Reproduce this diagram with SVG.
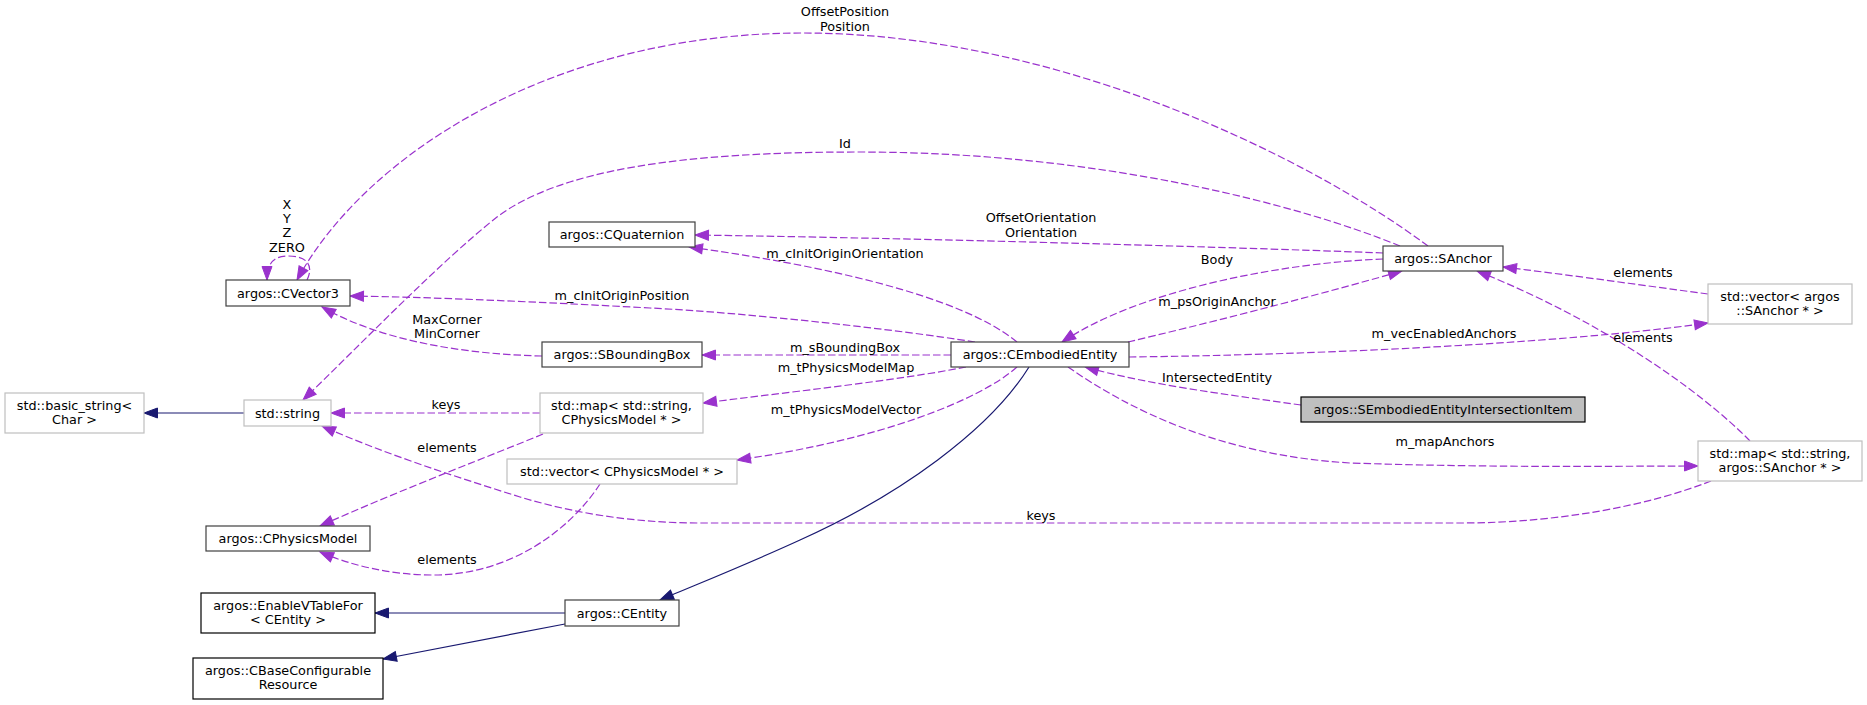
<svg xmlns="http://www.w3.org/2000/svg" width="1867" height="705" viewBox="0 0 1867 705">
<style>
text{font-family:"DejaVu Sans","Liberation Sans",sans-serif;font-size:12.8px;fill:#000;text-anchor:middle}
.n{fill:#fff;stroke:#404040;stroke-width:1.2}
.nb{fill:#fff;stroke:#000;stroke-width:1.2}
.ng{fill:#fff;stroke:#bfbfbf;stroke-width:1.2}
.nm{fill:#bfbfbf;stroke:#000;stroke-width:1.2}
.d{fill:none;stroke:#9a32cd;stroke-width:1.2;stroke-dasharray:7.5,3;marker-end:url(#ap)}
.s{fill:none;stroke:#191970;stroke-width:1.2;marker-end:url(#ab)}
</style>
<defs>
<marker id="ap" markerUnits="userSpaceOnUse" orient="auto" refX="0" refY="0" markerWidth="16" markerHeight="12" overflow="visible">
<path d="M-13.5,-5 L0,0 L-13.5,5 z" fill="#9a32cd" stroke="#9a32cd" stroke-width="1" stroke-dasharray="none"/>
</marker>
<marker id="ab" markerUnits="userSpaceOnUse" orient="auto" refX="0" refY="0" markerWidth="16" markerHeight="12" overflow="visible">
<path d="M-13.5,-5 L0,0 L-13.5,5 z" fill="#191970" stroke="#191970" stroke-width="1" stroke-dasharray="none"/>
</marker>
</defs>
<rect width="1867" height="705" fill="#fff"/>
<g id="edges">
<path class="d" d="M1428,246 C1304,154 1053,33 803,33 C553,33 365,155 297,280"/>
<text x="845" y="16">OffsetPosition</text><text x="845" y="31">Position</text>
<path class="d" d="M307,280 C313,268 310,256 288,256 C273,256 267,264 267,280"/>
<text x="287" y="208.5">X</text><text x="287" y="222.5">Y</text><text x="287" y="236.5">Z</text><text x="287" y="252">ZERO</text>
<path class="d" d="M1400,246 C1300,205 1100,152 859,152 C680,152 560,170 497,217 C440,262 360,345 303,400"/>
<text x="845" y="147.5">Id</text>
<path class="d" d="M1383,253 C1200,246 900,238 695,235"/>
<text x="1041" y="221.5">OffsetOrientation</text><text x="1041" y="236.5">Orientation</text>
<path class="d" d="M1017,342 C960,295 820,265 689,247"/>
<text x="845" y="257.5">m_cInitOriginOrientation</text>
<path class="d" d="M975,342 C900,330 750,313 650,308 C540,302 430,297 350,296"/>
<text x="622" y="299.5">m_cInitOriginPosition</text>
<path class="d" d="M951,355 L702,355"/>
<text x="845" y="351.5">m_sBoundingBox</text>
<path class="d" d="M542,356 C460,354 380,340 322,307"/>
<text x="447" y="323.5">MaxCorner</text><text x="447" y="337.5">MinCorner</text>
<path class="d" d="M540,413 L331,413"/>
<text x="446" y="408.5">keys</text>
<path class="d" d="M543,434 C500,452 400,490 320,526"/>
<text x="447" y="451.5">elements</text>
<path class="d" d="M600,484 C570,530 510,575 433,575 C390,575 350,565 320,552"/>
<text x="447" y="563.5">elements</text>
<path class="d" d="M1711,481 C1650,505 1560,523 1460,523 L700,523 C640,523 580,515 520,497 C450,475 380,452 322,426"/>
<text x="1041" y="519.5">keys</text>
<path class="d" d="M966,367 C900,380 790,392 703,403"/>
<text x="846" y="371.5">m_tPhysicsModelMap</text>
<path class="d" d="M1017,367 C980,400 880,440 737,460"/>
<text x="846" y="413.5">m_tPhysicsModelVector</text>
<path class="s" d="M1029,367 C990,430 900,495 800,540 C750,563 700,583 660,600"/>
<path class="s" d="M565,613 L375,613"/>
<path class="s" d="M565,624 L383,659"/>
<path class="s" d="M244,413 L144,413"/>
<path class="d" d="M1128,342 C1200,325 1300,300 1402,271"/>
<text x="1217" y="305.5">m_psOriginAnchor</text>
<path class="d" d="M1383,259 C1280,263 1140,290 1062,342"/>
<text x="1217" y="263.5">Body</text>
<path class="d" d="M1129,357 C1300,355 1550,345 1708,323"/>
<text x="1444" y="337.5">m_vecEnabledAnchors</text>
<path class="d" d="M1708,294 C1640,285 1570,275 1503,267"/>
<text x="1643" y="276.5">elements</text>
<path class="d" d="M1750,441 C1700,390 1600,320 1477,271"/>
<text x="1643" y="341.5">elements</text>
<path class="d" d="M1301,405 C1230,395 1150,385 1085,367"/>
<text x="1217" y="381.5">IntersectedEntity</text>
<path class="d" d="M1068,367 C1130,410 1220,455 1350,463 C1500,468 1620,466 1698,466"/>
<text x="1445" y="445.5">m_mapAnchors</text>
</g>
<g id="n_cvector3"><rect class="n" x="226" y="280" width="124" height="26"/><text x="288" y="297.5">argos::CVector3</text></g>
<g id="n_cquaternion"><rect class="n" x="549" y="222" width="146" height="25"/><text x="622" y="239">argos::CQuaternion</text></g>
<g id="n_sboundingbox"><rect class="n" x="542" y="342" width="160" height="25"/><text x="622" y="359">argos::SBoundingBox</text></g>
<g id="n_string"><rect class="ng" x="244" y="400" width="87" height="26"/><text x="287.5" y="417.5">std::string</text></g>
<g id="n_basic_string"><rect class="ng" x="5" y="393" width="139" height="40"/><text x="74.5" y="409.5">std::basic_string&lt;</text><text x="74.5" y="423.5">Char &gt;</text></g>
<g id="n_map_cpm"><rect class="ng" x="540" y="393" width="163" height="40"/><text x="621.5" y="409.5">std::map&lt; std::string,</text><text x="621.5" y="423.5">CPhysicsModel * &gt;</text></g>
<g id="n_vector_cpm"><rect class="ng" x="507" y="459" width="230" height="25"/><text x="622" y="476">std::vector&lt; CPhysicsModel * &gt;</text></g>
<g id="n_cphysicsmodel"><rect class="n" x="206" y="526" width="164" height="25"/><text x="288" y="543">argos::CPhysicsModel</text></g>
<g id="n_enablevtable"><rect class="nb" x="201" y="593" width="174" height="40"/><text x="288" y="609.5">argos::EnableVTableFor</text><text x="288" y="623.5">&lt; CEntity &gt;</text></g>
<g id="n_cbaseconfigurable"><rect class="nb" x="193" y="658" width="190" height="41"/><text x="288" y="674.5">argos::CBaseConfigurable</text><text x="288" y="688.5">Resource</text></g>
<g id="n_centity"><rect class="n" x="565" y="600" width="114" height="26"/><text x="622" y="617.5">argos::CEntity</text></g>
<g id="n_cembodiedentity"><rect class="n" x="951" y="342" width="178" height="25"/><text x="1040" y="359">argos::CEmbodiedEntity</text></g>
<g id="n_sanchor"><rect class="n" x="1383" y="246" width="120" height="25"/><text x="1443" y="263">argos::SAnchor</text></g>
<g id="n_intersection"><rect class="nm" x="1301" y="397" width="284" height="25"/><text x="1443" y="414">argos::SEmbodiedEntityIntersectionItem</text></g>
<g id="n_vector_sanchor"><rect class="ng" x="1708" y="284" width="144" height="40"/><text x="1780" y="300.5">std::vector&lt; argos</text><text x="1780" y="314.5">::SAnchor * &gt;</text></g>
<g id="n_map_sanchor"><rect class="ng" x="1698" y="441" width="164" height="40"/><text x="1780" y="457.5">std::map&lt; std::string,</text><text x="1780" y="471.5">argos::SAnchor * &gt;</text></g>
</svg>
